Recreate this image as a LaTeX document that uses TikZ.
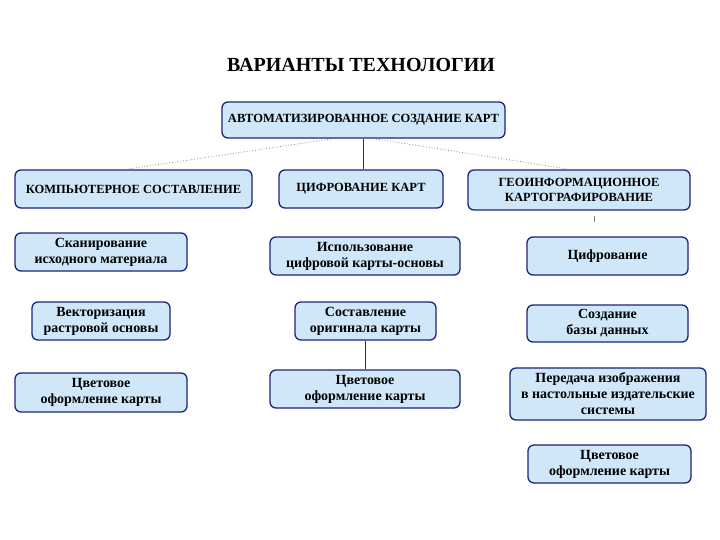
\documentclass[tikz,border=0pt]{standalone}
\usepackage{fontspec}
\setmainfont{Liberation Serif}
\usepackage{tikz}
\usetikzlibrary{positioning}
\definecolor{bfill}{HTML}{CFE7F8}
\definecolor{bdraw}{HTML}{1C2478}
\begin{document}
\begin{tikzpicture}[x=1pt, y=-1pt, font=\bfseries\fontsize{14}{16}\selectfont,
  box/.style={draw=bdraw, fill=bfill, line width=1.3pt, rounded corners=6pt, align=center, inner sep=1pt},
  caps/.style={box, font=\bfseries\fontsize{12.5}{14.5}\selectfont},
  link/.style={draw=black!80, line width=0.6pt},
  dotlink/.style={draw=black!45, dotted, line width=0.8pt},
]
\useasboundingbox (0,0) rectangle (720,540);
\node (title) at (361,65) {\fontsize{20}{22}\selectfont ВАРИАНТЫ ТЕХНОЛОГИИ};
\node[caps, minimum width=283, minimum height=36] (top) at (363.5,120) {АВТОМАТИЗИРОВАННОЕ СОЗДАНИЕ КАРТ};
% second row
\node[caps, minimum width=237, minimum height=38] (komp) at (133.5,189) {КОМПЬЮТЕРНОЕ СОСТАВЛЕНИЕ};
\node[caps, minimum width=164, minimum height=38] (cifr) at (361,189) {ЦИФРОВАНИЕ КАРТ};
\node[caps, minimum width=222, minimum height=40] (geo) at (579,190) {ГЕОИНФОРМАЦИОННОЕ\\КАРТОГРАФИРОВАНИЕ};
% left column
\node[box, minimum width=172, minimum height=38] (skan) at (101,252) {Сканирование\\исходного материала};
\node[box, minimum width=138, minimum height=38] (vekt) at (101,321) {Векторизация\\растровой основы};
\node[box, minimum width=172, minimum height=39] (cvetA) at (101,392.5) {Цветовое\\оформление карты};
% middle column
\node[box, minimum width=190, minimum height=38] (ispol) at (365,256) {Использование\\цифровой карты-основы};
\node[box, minimum width=141, minimum height=38] (sost) at (365.5,321) {Составление\\оригинала карты};
\node[box, minimum width=190, minimum height=38] (cvetB) at (365,389) {Цветовое\\оформление карты};
% right column
\node[box, minimum width=161, minimum height=38] (cifrov) at (607.5,256) {Цифрование};
\node[box, minimum width=161, minimum height=37] (bd) at (607.5,323.5) {Создание\\базы данных};
\node[box, minimum width=196, minimum height=52] (pered) at (608,394) {Передача изображения\\в настольные издательские\\системы};
\node[box, minimum width=163, minimum height=38] (cvetC) at (609.5,464) {Цветовое\\оформление карты};
\coordinate (gtick) at (594,222);
\draw[link] (top) -- (top.south |- cifr.north);
\draw[dotlink] ([xshift=-30]top.south) -- ([xshift=-8]komp.north);
\draw[dotlink] ([xshift=10]top.south) -- ([xshift=-9]geo.north);
\draw[link] (sost) -- (sost.south |- cvetB.north);
\draw[draw=black!50, line width=0.6pt] ([xshift=15,yshift=-5]geo.south) -- (gtick);
\end{tikzpicture}
\end{document}
